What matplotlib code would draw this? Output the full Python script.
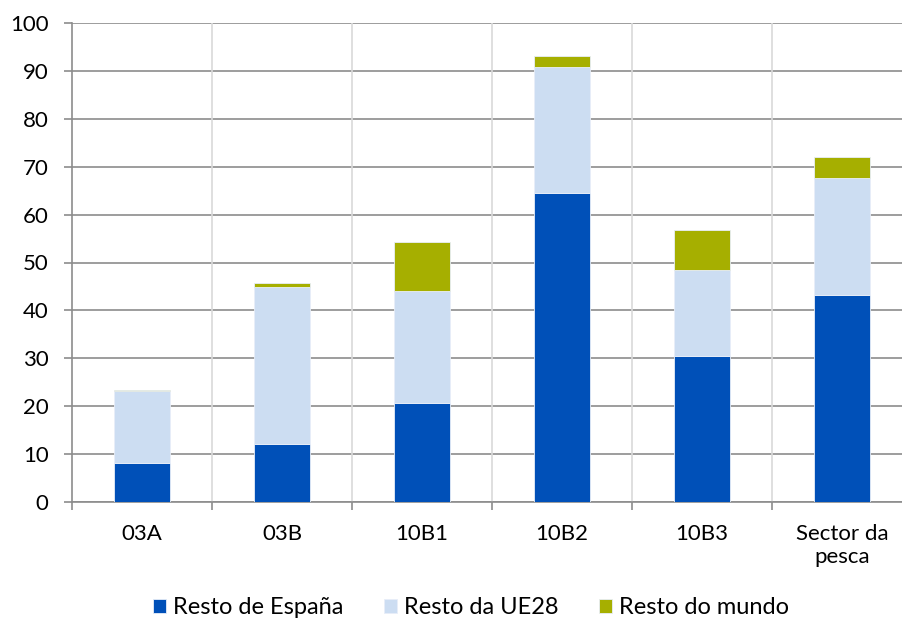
import matplotlib.pyplot as plt
import numpy as np

plt.rcParams['font.family'] = ['Lato', 'DejaVu Sans']

categories = ['03A', '03B', '10B1', '10B2', '10B3', 'Sector da\npesca']
espana = [8.1, 12.1, 20.7, 64.5, 30.5, 43.2]
ue28 = [15.1, 32.8, 23.4, 26.3, 18.0, 24.5]
mundo = [0.2, 0.8, 10.2, 2.3, 8.2, 4.3]

col_espana = '#0050B8'
col_ue28 = '#CCDDF2'
col_mundo = '#A6AF00'

fig = plt.figure(figsize=(9.03, 6.22), dpi=100)
ax = fig.add_axes([72 / 903, 120 / 622, 840 / 903, 479 / 622])

x = np.arange(len(categories))
w = 0.4
b1 = ax.bar(x, espana, w, color=col_espana, edgecolor='#e8eef8', linewidth=0.6, label='Resto de España', zorder=3)
b2 = ax.bar(x, ue28, w, bottom=espana, color=col_ue28, edgecolor='#e8eef8', linewidth=0.6, label='Resto da UE28', zorder=3)
bottom2 = np.array(espana) + np.array(ue28)
b3 = ax.bar(x, mundo, w, bottom=bottom2, color=col_mundo, edgecolor='#e8eef8', linewidth=0.6, label='Resto do mundo', zorder=3)

ax.set_xlim(-0.5, len(categories) - 0.5)
ax.set_ylim(0, 100)
ax.set_yticks(range(0, 101, 10))
ax.set_xticks(x)
ax.set_xticklabels(categories, fontsize=16, linespacing=1.15)
ax.tick_params(axis='y', labelsize=16, length=5.8, color='#8C8C8C', width=1.2, pad=11)
ax.tick_params(axis='x', length=0, pad=16)

# category separators
for b in np.arange(0.5, len(categories) - 0.5, 1):
    ax.axvline(b, color='#D9D9D9', linewidth=1.2, zorder=1)
ax.set_xticks(np.arange(-0.5, len(categories), 1), minor=True)
ax.tick_params(axis='x', which='minor', length=5.8, color='#8C8C8C', width=1.2)

ax.yaxis.grid(True, color='#8C8C8C', linewidth=1.2, zorder=2)
ax.set_axisbelow(True)
for s in ['top', 'right']:
    ax.spines[s].set_visible(False)
for s in ['left', 'bottom']:
    ax.spines[s].set_color('#8C8C8C')
    ax.spines[s].set_linewidth(1.2)

fig.legend(handles=[b1, b2, b3], loc='center', bbox_to_anchor=(471 / 903, 14 / 622),
           ncol=3, frameon=False, fontsize=17, handlelength=0.56, handleheight=0.56,
           handletextpad=0.3, columnspacing=1.7, borderpad=0)

fig.savefig('out.png', dpi=100)
